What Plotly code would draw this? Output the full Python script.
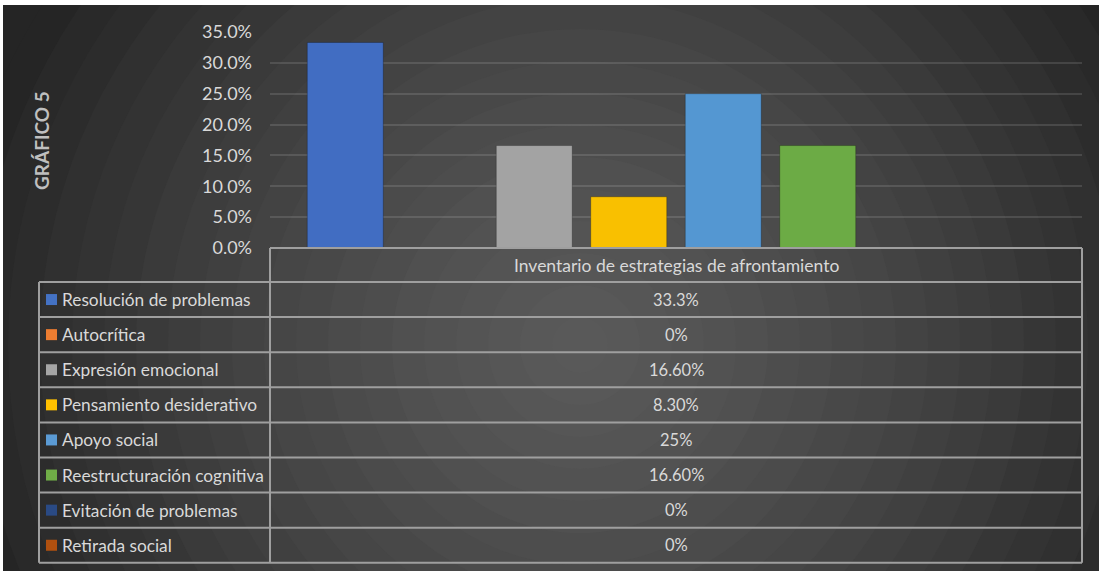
import plotly.graph_objects as go

# ---------------- data ----------------
group_label = "Inventario de estrategias de afrontamiento"
series_names = ["Resolución de problemas", "Autocrítica", "Expresión emocional",
                "Pensamiento desiderativo", "Apoyo social", "Reestructuración cognitiva",
                "Evitación de problemas", "Retirada social"]
series_values = [0.333, 0.0, 0.166, 0.083, 0.25, 0.166, 0.0, 0.0]
table_texts = ["33.3%", "0%", "16.60%", "8.30%", "25%", "16.60%", "0%", "0%"]
bar_colors = ["#416dc2", "#ed7d31", "#a3a3a3", "#f9c000", "#5497d2", "#6cab45", "#264478", "#9e480e"]
key_colors = ["#4472c4", "#ed7d31", "#a5a5a5", "#ffc000", "#5b9bd5", "#70ad47", "#2a4a84", "#b0500f"]
y_ticks = [0, 0.05, 0.10, 0.15, 0.20, 0.25, 0.30, 0.35]
chart_title = "GRÁFICO 5"

# ---------------- geometry (reference pixels) ----------------
OX, OY = 3, 5                      # page offset of the figure
W, H = 1099 - OX, 571 - OY
PL, PR, PT, PB = 270, 1082, 32, 248   # plot area in page px
TL = 39                             # table left edge
ROW_TOP = 282
ROW_H = 35.1

def px(x):
    return (x - PL) / (PR - PL)

def py(y):
    return (PB - y) / (PB - PT)

TXT = "#d9d9d9"
LINE = "#9f9f9f"
FONT = "Lato, Open Sans, sans-serif"

fig = go.Figure()
for name, val, col in zip(series_names, series_values, bar_colors):
    fig.add_trace(go.Bar(x=[group_label], y=[val], name=name,
                         marker=dict(color=col, line=dict(color="rgba(0,0,0,0.25)", width=1)),
                         showlegend=False))

shapes = []
# radial background made of concentric circles
cx, cy = 580, 345
rmax = 700
r = rmax
while r > 0:
    t = min(r / 640.0, 1.0)
    L = int(round(90 - 53 * t ** 1.35))
    col = f"rgb({L},{L},{L})"
    shapes.append(dict(type="circle", xref="paper", yref="paper", layer="below",
                       x0=px(cx - r), x1=px(cx + r), y0=py(cy + r), y1=py(cy - r),
                       fillcolor=col, line=dict(width=0)))
    r -= 32

# table lines
n = len(series_names)
bottom = ROW_TOP + ROW_H * n
def hline(x0, x1, y):
    shapes.append(dict(type="line", xref="paper", yref="paper", layer="above",
                       x0=px(x0), x1=px(x1), y0=py(y), y1=py(y),
                       line=dict(color=LINE, width=2)))
def vline(x, y0, y1):
    shapes.append(dict(type="line", xref="paper", yref="paper", layer="above",
                       x0=px(x), x1=px(x), y0=py(y0), y1=py(y1),
                       line=dict(color=LINE, width=2)))
hline(PL, PR, PB)
for i in range(n + 1):
    hline(TL, PR, ROW_TOP + ROW_H * i)
vline(TL, ROW_TOP, bottom)
vline(PL, PB, bottom)
vline(PR, PB, bottom)

annotations = []
annotations.append(dict(text=group_label, xref="paper", yref="paper",
                        x=px((PL + PR) / 2), y=py((PB + ROW_TOP) / 2),
                        xanchor="center", yanchor="middle", showarrow=False,
                        font=dict(family=FONT, size=17.5, color=TXT)))
for i, (name, txt, kc) in enumerate(zip(series_names, table_texts, key_colors)):
    yc = ROW_TOP + ROW_H * (i + 0.5)
    shapes.append(dict(type="rect", xref="paper", yref="paper", layer="above",
                       x0=px(46), x1=px(57), y0=py(yc + 5.5), y1=py(yc - 5.5),
                       fillcolor=kc, line=dict(width=0)))
    annotations.append(dict(text=name, xref="paper", yref="paper",
                            x=px(60), y=py(yc), xanchor="left", yanchor="middle",
                            showarrow=False, font=dict(family=FONT, size=17.3, color=TXT)))
    annotations.append(dict(text=txt, xref="paper", yref="paper",
                            x=px((PL + PR) / 2), y=py(yc), xanchor="center", yanchor="middle",
                            showarrow=False, font=dict(family=FONT, size=16.5, color=TXT)))

annotations.append(dict(text=f"<b>{chart_title}</b>", xref="paper", yref="paper",
                        x=px(41), y=py(141), xanchor="center", yanchor="middle",
                        textangle=-90, showarrow=False,
                        font=dict(family=FONT, size=19, color="#bfbfbf")))

fig.update_layout(
    width=W, height=H,
    margin=dict(l=PL - OX, r=W - (PR - OX), t=PT - OY, b=H - (PB - OY), pad=0),
    paper_bgcolor="rgb(37,37,37)", plot_bgcolor="rgba(0,0,0,0)",
    barmode="group", bargap=0.069, bargroupgap=0.196,
    shapes=shapes, annotations=annotations,
    font=dict(family=FONT, color=TXT),
    xaxis=dict(showticklabels=False, showgrid=False, zeroline=False, showline=False,
               ticks=""),
    yaxis=dict(range=[0, 0.35], tickvals=y_ticks, tickformat=".1%",
               showgrid=True, gridcolor="rgba(255,255,255,0.12)", gridwidth=2,
               zeroline=False, showline=False, ticks="", ticklabelstandoff=17,
               tickfont=dict(family=FONT, size=18, color=TXT)),
)

fig.write_html("out.html",
               post_script="document.body.style.margin='5px 0 0 3px';document.body.style.overflow='hidden';document.body.style.background='#ffffff';")
